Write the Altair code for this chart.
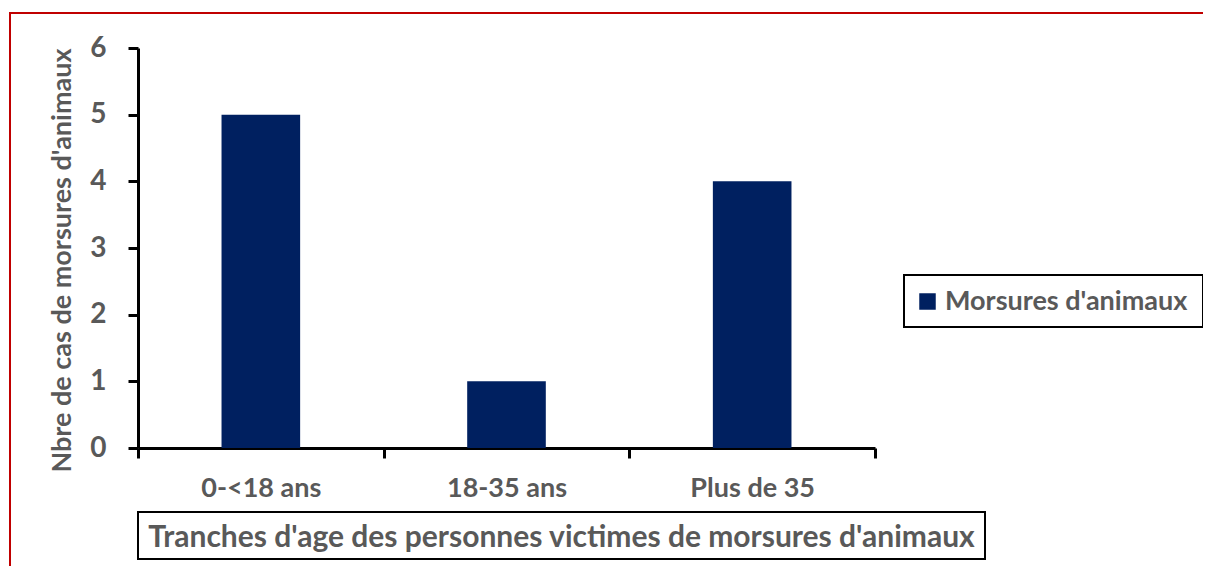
import altair as alt
import pandas as pd

categories = ["0-<18 ans", "18-35 ans", "Plus de 35"]
values = [5, 1, 4]
series_name = "Morsures d'animaux"
y_ticks = [0, 1, 2, 3, 4, 5, 6]

df = pd.DataFrame({"cat": categories, "val": values, "serie": [series_name] * len(categories)})

FONT = "Lato"
GREY = "#595959"
NAVY = "#002060"
W, H = 737, 400

bars = alt.Chart(df).mark_bar(width=alt.RelativeBandSize(0.32), color=NAVY).encode(
    x=alt.X("cat:N", sort=categories,
            scale=alt.Scale(paddingInner=0, paddingOuter=0),
            axis=alt.Axis(title="Tranches d'age des personnes victimes de morsures d'animaux",
                          labelAngle=0, labelFont=FONT, labelFontSize=27, labelFontWeight="bold",
                          labelColor=GREY, labelPadding=17, labelLimit=400,
                          tickBand="extent", tickSize=10, tickWidth=3, tickColor="black",
                          domainColor="black", domainWidth=3,
                          titleFont=FONT, titleFontSize=30, titleFontWeight="bold", titleColor=GREY,
                          titleX=423, titleY=89, titleBaseline="middle", titleAlign="center",
                          titleAnchor="start", titleLimit=1000)),
    y=alt.Y("val:Q", scale=alt.Scale(domain=[0, 6], nice=False),
            axis=alt.Axis(values=y_ticks, title="Nbre de cas de morsures d'animaux",
                          labelFont=FONT, labelFontSize=28, labelFontWeight="bold", labelColor=GREY,
                          labelPadding=22, tickSize=10, tickWidth=3, tickColor="black",
                          domainColor="black", domainWidth=3, grid=False,
                          titleFont=FONT, titleFontSize=27, titleFontWeight="bold", titleColor=GREY,
                          titleAngle=270, titleX=-76, titleY=212, titleBaseline="middle",
                          titleAlign="center", titleAnchor="start", titleLimit=1000)),
    color=alt.Color("serie:N", scale=alt.Scale(domain=[series_name], range=[NAVY]),
                    legend=alt.Legend(title=None, orient="none", legendX=776, legendY=240,
                                      symbolType="square", symbolSize=272, symbolStrokeWidth=0,
                                      labelFont=FONT, labelFontSize=27, labelFontWeight="bold",
                                      labelColor=GREY, labelLimit=400, padding=0)),
)

one = alt.Data(values=[{"k": 1}])

xtitle_box = alt.Chart(one).mark_rect(fill=None, stroke="black", strokeWidth=2).encode(
    x=alt.value(0), x2=alt.value(847), y=alt.value(464), y2=alt.value(511))

legend_box = alt.Chart(one).mark_rect(fill="white", stroke="black", strokeWidth=2).encode(
    x=alt.value(766), x2=alt.value(1065), y=alt.value(227), y2=alt.value(279))

frame = alt.Chart(one).mark_rect(fill=None, stroke="#c00000", strokeWidth=2).encode(
    x=alt.value(-128), x2=alt.value(1300), y=alt.value(-35), y2=alt.value(700))

chart = alt.layer(frame, xtitle_box, legend_box, bars).properties(
    width=W, height=H,
    background="white",
    autosize=alt.AutoSizeParams(type="none"),
    padding={"left": 130, "top": 40, "right": 328, "bottom": 118},
).configure_view(stroke=None)

chart.save("out.html", embed_options={"renderer": "svg", "actions": False})
